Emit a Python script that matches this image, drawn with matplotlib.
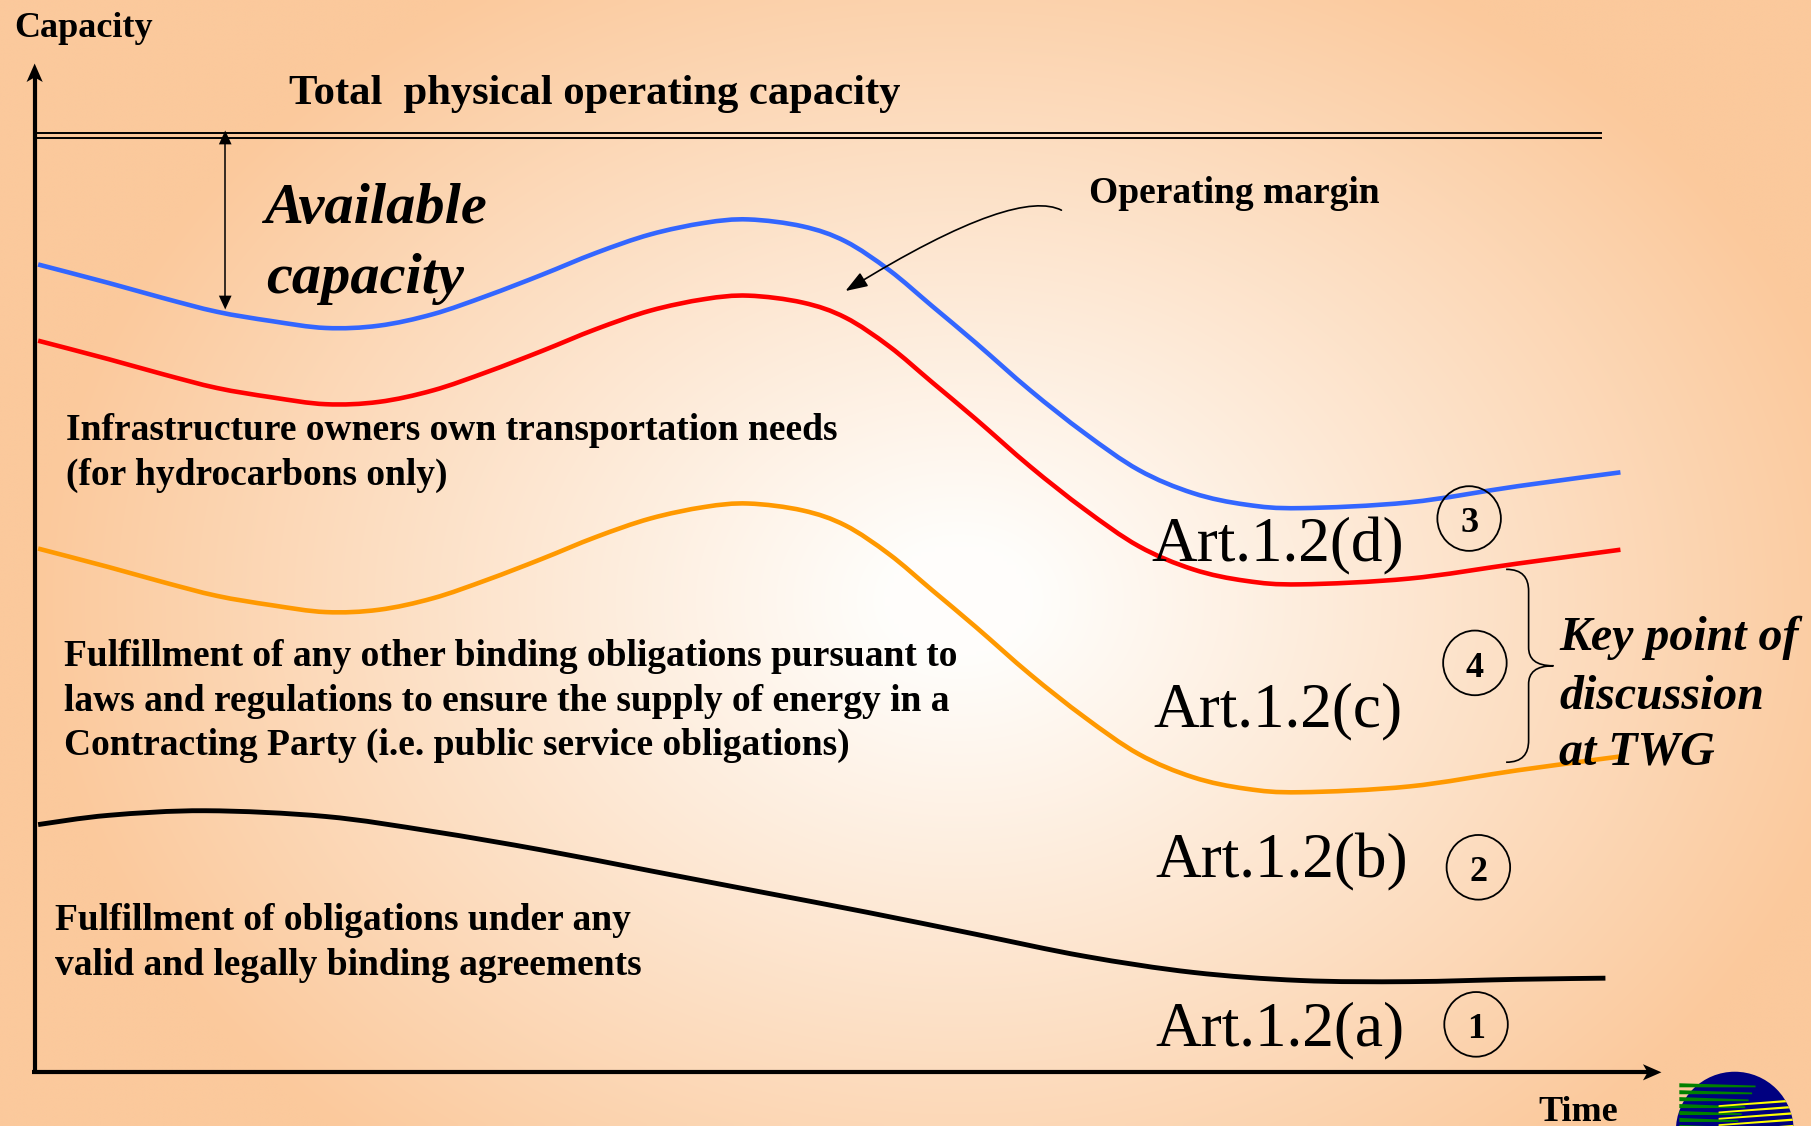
import numpy as np
import matplotlib
matplotlib.use("Agg")
import matplotlib.pyplot as plt
from matplotlib.path import Path
from matplotlib.patches import PathPatch, Polygon, Ellipse, Circle, FancyArrowPatch

plt.rcParams['font.family'] = 'Liberation Serif'

W, H = 1568, 975          # drawing units (x right, y down)
peach = np.array([251, 201, 156]) / 255.0

# capacity bands over time
band_x = [33, 94, 141, 188, 235, 282, 328, 375, 422, 469, 516, 563, 610, 648, 695, 732, 770,
          807, 845, 892, 939, 986, 1033, 1079, 1126, 1220, 1314, 1403]
blue_y = [229, 245, 258, 270, 278, 284, 282, 272, 256, 238, 219, 203, 193, 190, 196, 209, 234,
          265, 297, 338, 375, 407, 427, 437, 440, 435, 421, 409]
red_y = [295, 311, 324, 336, 344, 350, 348, 338, 322, 304, 285, 269, 259, 256, 262, 275, 300,
         331, 363, 404, 441, 473, 493, 503, 506, 501, 488, 476]
orange_y = [475, 491, 504, 516, 524, 530, 528, 518, 502, 484, 465, 449, 439, 436, 442, 455, 480,
            511, 543, 584, 621, 653, 673, 683, 686, 681, 667, 655]
black_x = [33, 94, 178, 282, 375, 469, 563, 657, 751, 845, 939, 1033, 1126, 1220, 1314, 1390]
black_y = [714, 706, 702, 707, 720, 736, 754, 772, 790, 809, 828, 842, 849, 850, 848, 847]

total_cap_y = 117.5

art_labels = ["Art.1.2(d)", "Art.1.2(c)", "Art.1.2(b)", "Art.1.2(a)"]
art_pos = [(997, 486), (999, 629), (1000, 760), (1000, 905)]
circle_nums = ["3", "4", "2", "1"]
circle_pos = [(1272, 449), (1277, 574), (1280, 751), (1278, 887)]

band_texts = [
    ("Infrastructure owners own transportation needs", 57, 381),
    ("(for hydrocarbons only)", 57, 420),
    ("Fulfillment of any other binding obligations pursuant to", 55, 577),
    ("laws and regulations to ensure the supply of energy in a", 55, 616),
    ("Contracting Party (i.e. public service obligations)", 55, 654),
    ("Fulfillment of obligations under any", 48, 805),
    ("valid and legally binding agreements", 48, 844),
]


def smooth_path(xs, ys):
    pts = np.column_stack([xs, ys]).astype(float)
    n = len(pts)
    verts, codes = [pts[0]], [Path.MOVETO]
    for i in range(n - 1):
        p0 = pts[i - 1] if i > 0 else pts[i]
        p1, p2 = pts[i], pts[i + 1]
        p3 = pts[i + 2] if i + 2 < n else pts[i + 1]
        verts += [p1 + (p2 - p0) / 6, p2 - (p3 - p1) / 6, p2]
        codes += [Path.CURVE4] * 3
    return Path(verts, codes)


def head(ax, tip, direction, length, width, notch=0.25, z=5):
    d = np.array(direction, float)
    d /= np.linalg.norm(d)
    nrm = np.array([-d[1], d[0]])
    tip = np.array(tip, float)
    base = tip - d * length
    pts = [tip, base + nrm * width / 2, tip - d * length * (1 - notch), base - nrm * width / 2]
    ax.add_patch(Polygon(pts, closed=True, color='black', lw=0, zorder=z))


fig = plt.figure(figsize=(18.11, 11.26), dpi=100)
ax = fig.add_axes([0, 0, 1, 1])
ax.set_xlim(0, W)
ax.set_ylim(H, 0)
ax.axis('off')

# radial background
gx, gy = np.meshgrid(np.linspace(0, W, 400), np.linspace(0, H, 250))
t = np.sqrt(((gx - 830) / 800) ** 2 + ((gy - 520) / 620) ** 2)
t = np.clip((t - 0.08) / 0.92, 0, 1)[..., None]
bg = (1 - t) * np.array([1.0, 0.995, 0.985]) + t * peach
ax.imshow(bg, extent=(0, W, H, 0), aspect='auto', zorder=0, interpolation='bilinear')

# axes
ax.plot([30, 30], [929, 66], color='black', lw=3, solid_capstyle='butt', zorder=4)
head(ax, (30, 55), (0, -1), 16, 14)
ax.plot([28, 1428], [928.5, 928.5], color='black', lw=3, solid_capstyle='butt', zorder=4)
head(ax, (1438.5, 928.5), (1, 0), 16, 14)

# total physical operating capacity (double line)
for dy in (-2.2, 2.2):
    ax.plot([30, 1386], [total_cap_y + dy] * 2, color='black', lw=1.4, zorder=3)

# available capacity arrow
ax.plot([195, 195], [123, 258], color='black', lw=1.1, zorder=4)
head(ax, (195, 113), (0, -1), 12, 11, notch=0.0)
head(ax, (195, 268), (0, 1), 12, 11, notch=0.0)

# bands
for xs, ys, c, lw in [(band_x, blue_y, '#3366FF', 3.3), (band_x, red_y, '#FF0000', 3.3),
                      (band_x, orange_y, '#FF9900', 3.3), (black_x, black_y, 'black', 3.5)]:
    ax.add_patch(PathPatch(smooth_path(xs, ys), fill=False, edgecolor=c, lw=lw,
                           capstyle='butt', zorder=3))

# operating margin pointer
arc = Path([(919, 182), (895, 170), (840, 185), (732, 252)],
           [Path.MOVETO, Path.CURVE4, Path.CURVE4, Path.CURVE4])
ax.add_patch(FancyArrowPatch(path=arc, arrowstyle='-|>,head_length=0.45,head_width=0.16',
                             mutation_scale=30, color='black', lw=1.2, zorder=4))

# brace around band 4
bx, btop, bbot, btip = 1323.5, 493, 660, 1345
bmid = (btop + bbot) / 2
brace = Path([(1304, btop), (1318, btop), (bx, btop + 7), (bx, btop + 19),
              (bx, bmid - 16),
              (bx, bmid - 6), (bx + 6, bmid), (btip, bmid),
              (bx + 6, bmid), (bx, bmid + 6), (bx, bmid + 16),
              (bx, bbot - 19),
              (bx, bbot - 7), (1318, bbot), (1304, bbot)],
             [Path.MOVETO, Path.CURVE4, Path.CURVE4, Path.CURVE4, Path.LINETO,
              Path.CURVE4, Path.CURVE4, Path.CURVE4, Path.CURVE4, Path.CURVE4, Path.CURVE4,
              Path.LINETO, Path.CURVE4, Path.CURVE4, Path.CURVE4])
ax.add_patch(PathPatch(brace, fill=False, edgecolor='black', lw=1.2, zorder=4))

# text
ax.text(12, 32, "Capacity", fontsize=26, fontweight='bold', zorder=6)
ax.text(250, 90, "Total  physical operating capacity", fontsize=30.7, fontweight='bold', zorder=6)
ax.text(229, 193, "Available", fontsize=42, fontweight='bold', style='italic', zorder=6)
ax.text(230, 254, "capacity", fontsize=42, fontweight='bold', style='italic', zorder=6)
ax.text(943, 176, "Operating margin", fontsize=27, fontweight='bold', zorder=6)
for s, x, y in band_texts:
    ax.text(x, y, s, fontsize=27, fontweight='bold', zorder=6)
for s, (x, y) in zip(art_labels, art_pos):
    ax.text(x, y, s, fontsize=45.5, zorder=6)
for s, (x, y) in zip(circle_nums, circle_pos):
    ax.add_patch(Ellipse((x, y), 55, 56, fill=False, edgecolor='black', lw=1.3, zorder=5))
    ax.text(x, y + 12, s, fontsize=26, fontweight='bold', ha='center', zorder=6)
for s, y in zip(["Key point of", "discussion", "at TWG"], [563, 614, 662]):
    ax.text(1350, y, s, fontsize=34.5, fontweight='bold', style='italic', zorder=6)
ax.text(1332, 971, "Time", fontsize=26, fontweight='bold', zorder=6)

# globe logo
globe = Circle((1502, 979), 51, color='#000080', lw=0, zorder=5)
ax.add_patch(globe)
for k in range(7):
    y0 = 938 + k * 6
    stripe = Polygon([(1454, y0), (1520 - k * 3, y0 + 2), (1520 - k * 3, y0 + 3.5), (1454, y0 + 3.5)],
                     closed=True, color='#008000', lw=0, zorder=6)
    ax.add_patch(stripe)
for k in range(5):
    y0 = 955 + k * 5.5
    stripe = Polygon([(1488, y0 + 2), (1553, y0 - 3), (1553, y0 - 1), (1488, y0 + 3.5)],
                     closed=True, color='#FFFF00', lw=0, zorder=6)
    stripe.set_clip_path(globe)
    ax.add_patch(stripe)

fig.savefig("out.png", dpi=100)
